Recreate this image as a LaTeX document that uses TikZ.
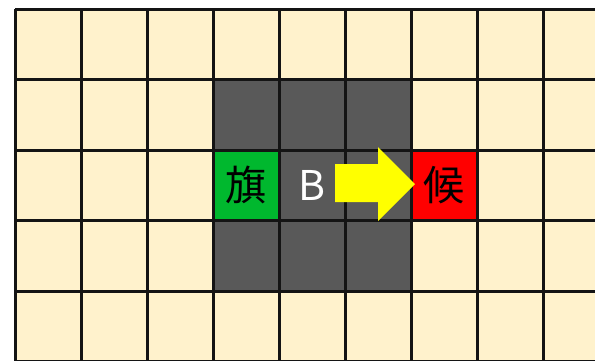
\documentclass[tikz,border=0pt]{standalone}
\usepackage{fontspec}
\newfontfamily\cjk{Noto Sans CJK JP}
\definecolor{cream}{HTML}{FFF2CC}
\definecolor{darkcell}{HTML}{595959}
\definecolor{greencell}{HTML}{00B82E}
\definecolor{redcell}{HTML}{FF0000}
\definecolor{arrowyellow}{HTML}{FFFF00}
\tikzset{
  gridline/.style={draw=black!92, line width=3pt},
  celltext/.style={font=\cjk\fontsize{41}{41}\selectfont, inner sep=0pt, anchor=center},
  movearrow/.style={fill=arrowyellow, draw=none}
}
\begin{document}
\begin{tikzpicture}[x=1pt,y=-1pt]
\useasboundingbox (0,0) rectangle (595,360);
\begin{scope}
\clip (0,0) rectangle (595,360);
\fill[cream] (15,9) rectangle (620,370);
\fill[darkcell] (213,79.5) rectangle (411,291);
\fill[greencell] (213,150) rectangle (279,220.5);
\fill[redcell] (411,150) rectangle (477,220.5);
\foreach \i in {0,...,9} {
  \draw[gridline] (15+66*\i,9) -- (15+66*\i,370);
}
\foreach \j in {0,...,5} {
  \draw[gridline] (15,9+70.5*\j) -- (620,9+70.5*\j);
}
\end{scope}
\node[celltext, text=black] (flag) at (246,185) {旗};
\node[celltext, text=white] (b) at (312,185) {B};
\node[celltext, text=black] (cand) at (444,185) {候};
\fill[movearrow] (335,164) -- (378,164) -- (378,147) -- (415,184) -- (378,221) -- (378,202) -- (335,202) -- cycle;
\end{tikzpicture}
\end{document}
